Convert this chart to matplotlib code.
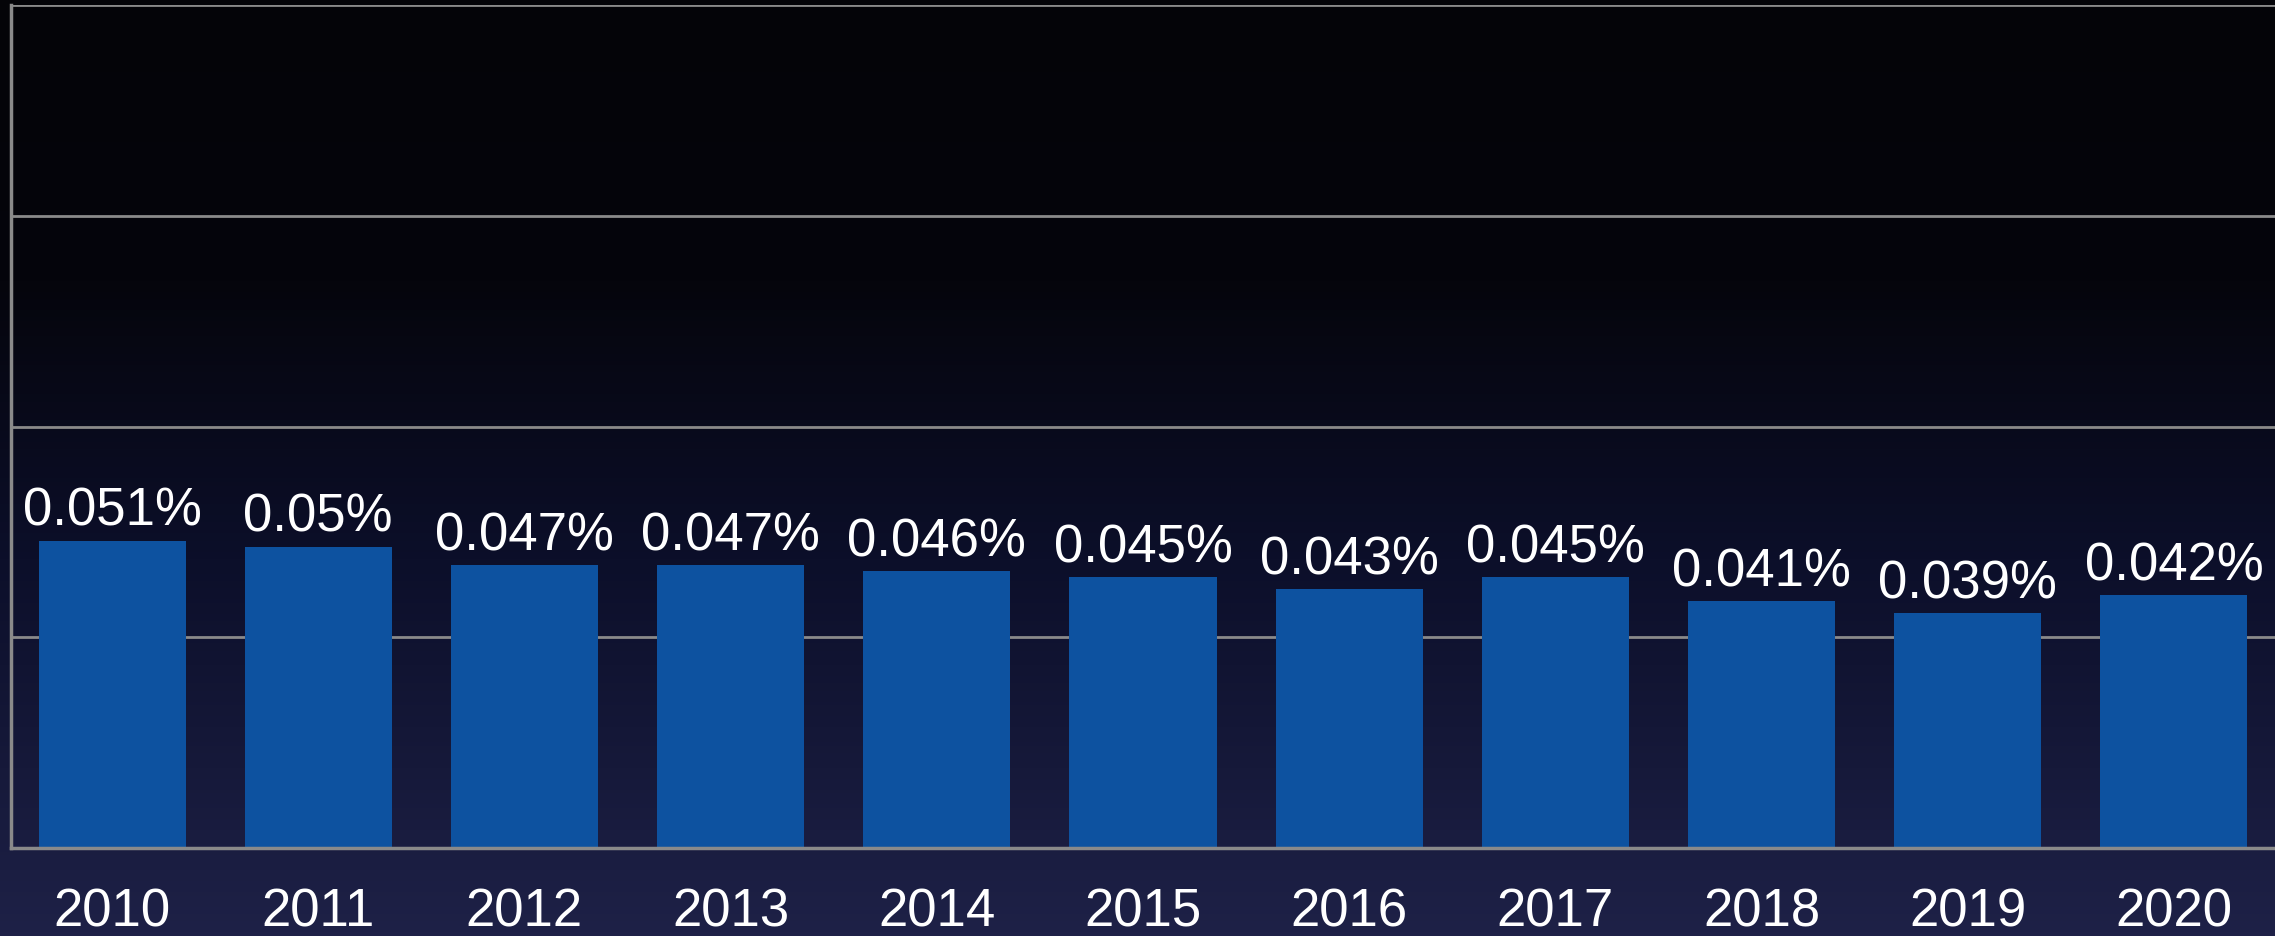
import numpy as np
import matplotlib
matplotlib.use("Agg")
import matplotlib.pyplot as plt
from matplotlib.colors import LinearSegmentedColormap

# =========== Data ============
years = ["2010", "2011", "2012", "2013", "2014", "2015",
         "2016", "2017", "2018", "2019", "2020"]
values = [0.051, 0.05, 0.047, 0.047, 0.046, 0.045,
          0.043, 0.045, 0.041, 0.039, 0.042]
labels = ["0.051%", "0.05%", "0.047%", "0.047%", "0.046%", "0.045%",
          "0.043%", "0.045%", "0.041%", "0.039%", "0.042%"]

BAR_COLOR = "#0d52a0"
GRID_COLOR = "#8a8a8a"
FONT = ["Liberation Sans", "DejaVu Sans"]

fig = plt.figure(figsize=(22.75, 9.37), dpi=100)

# background gradient, black at top to navy at bottom
bg = fig.add_axes([0, 0, 1, 1], zorder=-10)
bg_cmap = LinearSegmentedColormap.from_list(
    "bg", [(0.0, "#040408"), (0.3, "#05050c"), (0.6, "#0c0f2a"), (1.0, "#1e2147")])
grad = np.linspace(0, 1, 256).reshape(-1, 1)
bg.imshow(grad, cmap=bg_cmap, aspect="auto", extent=[0, 1, 1, 0])
bg.set_axis_off()

# axes from x=11 to right edge, y from 6 to 849 px
left = 11 / 2275
bottom = (937 - 849) / 937
top = (937 - 6) / 937
ax = fig.add_axes([left, bottom, 1 - left, top - bottom])
ax.set_facecolor("none")

x = np.arange(len(years))
ax.bar(x, values, width=0.713, color=BAR_COLOR, zorder=2)

ax.set_xlim(-0.49, len(years) - 1 + 0.49)
ax.set_ylim(0, 0.14)
ax.set_yticks(np.linspace(0, 0.14, 5))
ax.yaxis.grid(True, color=GRID_COLOR, linewidth=2, zorder=1)
ax.set_axisbelow(True)
ax.tick_params(axis="y", left=False, labelleft=False)
ax.tick_params(axis="x", bottom=False, labelsize=38, labelcolor="white", pad=24)
ax.set_xticks(x)
ax.set_xticklabels(years, fontfamily=FONT)

for s in ["top", "right"]:
    ax.spines[s].set_visible(False)
for s in ["left", "bottom"]:
    ax.spines[s].set_color(GRID_COLOR)
    ax.spines[s].set_linewidth(2.5)

for xi, v, lab in zip(x, values, labels):
    ax.annotate(lab, (xi, v), xytext=(0, 11.5), textcoords="offset points",
                ha="center", va="baseline", color="white", fontsize=38,
                fontfamily=FONT)

fig.savefig("out.png", dpi=100, facecolor="black")
